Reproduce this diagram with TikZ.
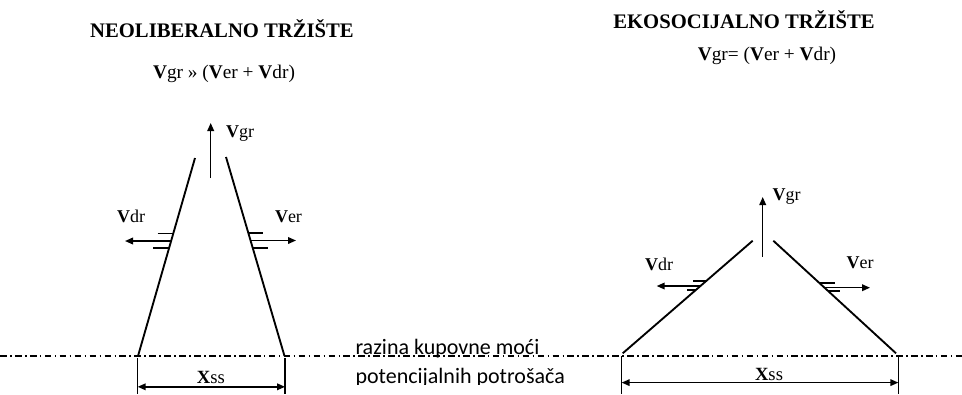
\documentclass[tikz,border=0pt]{standalone}
\usepackage{fontspec}
\setmainfont{Liberation Serif}
\newfontfamily\carlito{Carlito}
\usetikzlibrary{positioning,arrows.meta,calc}

\begin{document}
\begin{tikzpicture}[x=0.75pt,y=-0.75pt,
  every node/.style={inner sep=0pt,outer sep=0pt},
  ttl/.style={font=\fontsize{15.5}{18}\selectfont\bfseries, anchor=base},
  frm/.style={font=\fontsize{14.5}{16}\selectfont, anchor=base},
  lbl/.style={font=\fontsize{13.5}{15}\selectfont, anchor=base west},
  side/.style={line width=1.4pt},
  hatch/.style={line width=1.3pt},
  push/.style={line width=1.1pt,-{Triangle[length=6pt,width=5pt]}},
  span/.style={line width=1.1pt,{Triangle[length=6pt,width=5pt]}-{Triangle[length=6pt,width=5pt]}},
  tick/.style={line width=1.1pt},
  level/.style={line width=0.8pt,dash pattern=on 5pt off 2.5pt on 1.2pt off 2.5pt}]
  \useasboundingbox (0,0) rectangle (962,394);

  % naslovi
  \node[ttl] (ttlNeo) at (222,37) {NEOLIBERALNO TRŽIŠTE};
  \node[frm] (frmNeo) at (224,78) {\textbf{V}gr » (\textbf{V}er + \textbf{V}dr)};
  \node[ttl] (ttlEko) at (744,28) {EKOSOCIJALNO TRŽIŠTE};
  \node[frm] (frmEko) at (767,60) {\textbf{V}gr= (\textbf{V}er + \textbf{V}dr)};

  % razina kupovne moci
  \coordinate (lvlA) at (0,356);
  \coordinate (lvlB) at (962,356);
  \draw[level] (lvlA) -- (lvlB);
  \begin{scope}
    \clip (340,330) rectangle (620,384);
    \node[font=\carlito\fontsize{16.5}{20}\selectfont, anchor=base west] (lvlTop) at (355.5,354) {razina kupovne moći};
    \node[font=\carlito\fontsize{16.5}{20}\selectfont, anchor=base west] (lvlBot) at (355.5,383.5) {potencijalnih potrošača};
  \end{scope}

  % neoliberalno
  \foreach \n/\x/\y in {nlBL/138/356, nlTL/195/158, nlTR/226/157, nlBR/284.5/356,
      nlGa/210.7/178, nlGb/210.7/123, nlDa/171/241, nlDb/125/241, nlEa/250/240.5, nlEb/296/240.5,
      nlH1a/157.7/233.5, nlH1b/173.4/233.5, nlH2a/153.3/247.7, nlH2b/169.5/247.7,
      nlH3a/248.2/233.3, nlH3b/262.7/233.3, nlH4a/252.4/247.7, nlH4b/268.3/247.7,
      nlXa/137.7/358, nlXb/137.7/394, nlXc/285/358, nlXd/285/394}
    \coordinate (\n) at (\x,\y);
  \draw[side] (nlBL) -- (nlTL);
  \draw[side] (nlTR) -- (nlBR);
  \draw[hatch] (nlH1a) -- (nlH1b) (nlH2a) -- (nlH2b) (nlH3a) -- (nlH3b) (nlH4a) -- (nlH4b);
  \draw[push] (nlGa) -- (nlGb);
  \draw[push] (nlDa) -- (nlDb);
  \draw[push] (nlEa) -- (nlEb);
  \draw[tick] (nlXa) -- (nlXb) (nlXc) -- (nlXd);
  \draw[span] ($(nlXa)!0.8!(nlXb)$) -- ($(nlXc)!0.8!(nlXd)$);
  \node[lbl] (nlVgr) at (226,137) {\textbf{V}gr};
  \node[lbl] (nlVdr) at (117,222) {\textbf{V}dr};
  \node[lbl] (nlVer) at (275,222) {\textbf{V}er};
  \node[lbl, anchor=base, font=\fontsize{14}{15}\selectfont] (nlXss) at (211,383) {\textbf{X}ss};

  % ekosocijalno
  \foreach \n/\x/\y in {ekBL/622.7/353.3, ekTL/752.7/240.7, ekTR/773.3/240.7, ekBR/896/353.3,
      ekGa/762.7/256.7, ekGb/762.7/197, ekDa/701/286, ekDb/656.7/286, ekEa/825/287.7, ekEb/870/287.7,
      ekH1a/693.3/280.7, ekH1b/706.5/280.7, ekH2a/687.3/290, ekH2b/695.8/290,
      ekH3a/819.7/283.3, ekH3b/835/283.3, ekH4a/828.1/291, ekH4b/840/291,
      ekXa/621.7/356, ekXb/621.7/394, ekXc/898.3/356, ekXd/898.3/394}
    \coordinate (\n) at (\x,\y);
  \draw[side] (ekBL) -- (ekTL);
  \draw[side] (ekTR) -- (ekBR);
  \draw[hatch] (ekH1a) -- (ekH1b) (ekH2a) -- (ekH2b) (ekH3a) -- (ekH3b) (ekH4a) -- (ekH4b);
  \draw[push] (ekGa) -- (ekGb);
  \draw[push] (ekDa) -- (ekDb);
  \draw[push] (ekEa) -- (ekEb);
  \draw[tick] (ekXa) -- (ekXb) (ekXc) -- (ekXd);
  \draw[span] ($(ekXa)!0.7!(ekXb)$) -- ($(ekXc)!0.7!(ekXd)$);
  \node[lbl] (ekVgr) at (772.7,200) {\textbf{V}gr};
  \node[lbl] (ekVdr) at (645,270) {\textbf{V}dr};
  \node[lbl] (ekVer) at (846.7,268) {\textbf{V}er};
  \node[lbl, anchor=base, font=\fontsize{14}{15}\selectfont] (ekXss) at (769,380) {\textbf{X}ss};
\end{tikzpicture}
\end{document}
